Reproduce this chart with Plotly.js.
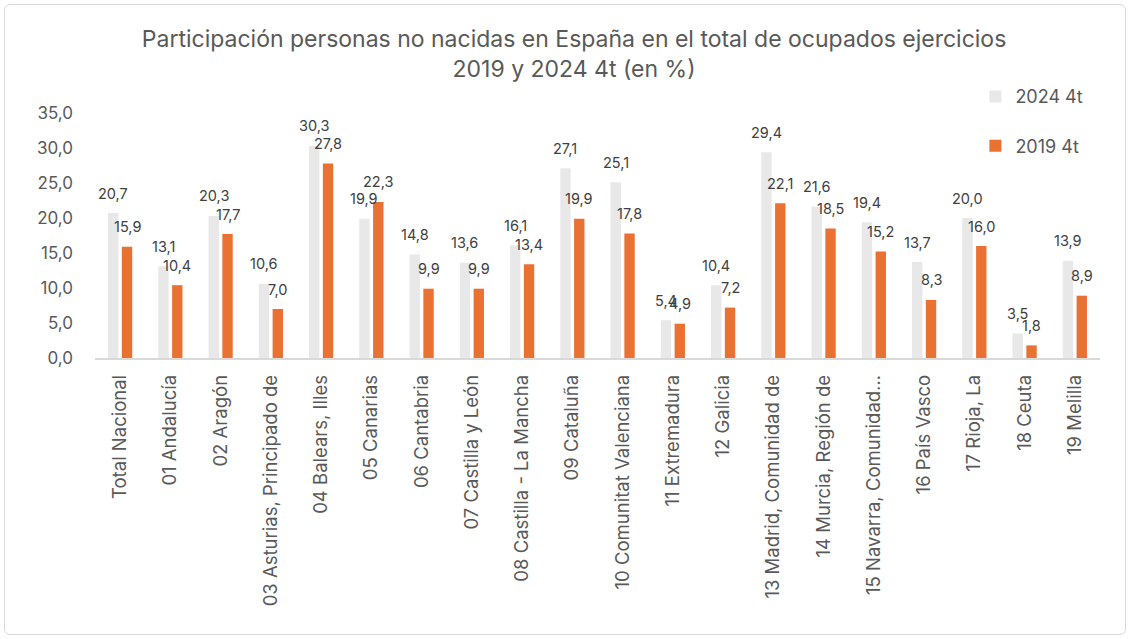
<!DOCTYPE html>
<html>
<head>
<meta charset="utf-8">
<script src="https://cdn.plot.ly/plotly-3.0.1.min.js"></script>
<style>
html,body{margin:0;padding:0;background:#fff;}
#wrap{position:relative;width:1130px;height:639px;}
#chart{width:1130px;height:639px;}
#frame{position:absolute;left:4px;top:4px;width:1120px;height:629px;border:1px solid #d9d9d9;border-radius:6px;pointer-events:none;}
</style>
</head>
<body>
<div id="wrap"><div id="chart"></div><div id="frame"></div></div>
<script>
var categories = ["Total Nacional","01 Andalucía","02 Aragón","03 Asturias, Principado de","04 Balears, Illes","05 Canarias","06 Cantabria","07 Castilla y León","08 Castilla - La Mancha","09 Cataluña","10 Comunitat Valenciana","11 Extremadura","12 Galicia","13 Madrid, Comunidad de","14 Murcia, Región de","15 Navarra, Comunidad…","16 País Vasco","17 Rioja, La","18 Ceuta","19 Melilla"];
var values2024 = [20.7,13.1,20.3,10.6,30.3,19.9,14.8,13.6,16.1,27.1,25.1,5.4,10.4,29.4,21.6,19.4,13.7,20.0,3.5,13.9];
var values2019 = [15.9,10.4,17.7,7.0,27.8,22.3,9.9,9.9,13.4,19.9,17.8,4.9,7.2,22.1,18.5,15.2,8.3,16.0,1.8,8.9];
var seriesNames = ["2024 4t","2019 4t"];

var txtColor = "#595959";
var font = "Inter, Liberation Sans, Arial, sans-serif";
function fmt(v){ return v.toFixed(1).replace(".", ","); }

var traces = [
  {type:"bar", name:seriesNames[0], x:categories, y:values2024, marker:{color:"#e8e8e8"}, legendgroup:"a", hoverinfo:"y"},
  {type:"bar", name:seriesNames[1], x:categories, y:values2019, marker:{color:"#e97132"}, legendgroup:"b", hoverinfo:"y"}
];

var annotations = [];
categories.forEach(function(c,i){
  annotations.push({x:c, y:values2024[i], xref:"x", yref:"y", text:fmt(values2024[i]), showarrow:false, xshift:-7, yshift:20, yanchor:"middle", font:{family:font,size:14.5,color:"#404040"}});
  annotations.push({x:c, y:values2019[i], xref:"x", yref:"y", text:fmt(values2019[i]), showarrow:false, xshift:7, yshift:20, yanchor:"middle", font:{family:font,size:14.5,color:"#404040"}});
});

var layout = {
  width:1130, height:639,
  margin:{l:95, r:30, t:113, b:281},
  paper_bgcolor:"#fff", plot_bgcolor:"#fff",
  separators:",.",
  font:{family:font, color:txtColor},
  title:{text:"Participación personas no nacidas en España en el total de ocupados ejercicios<br>2019 y 2024 4t (en %)", x:0.508, xref:"container", xanchor:"center", y:0.926, yref:"container", yanchor:"top", font:{family:font,size:23,color:txtColor}},
  barmode:"group", bargap:0.45, bargroupgap:0.25,
  showlegend:true,
  legend:{x:0.876, xanchor:"left", y:1.142, yanchor:"top", traceorder:"grouped", tracegroupgap:23, font:{family:font,size:18,color:txtColor}, bgcolor:"rgba(0,0,0,0)"},
  xaxis:{type:"category", tickangle:-90, tickfont:{family:font,size:18.5,color:txtColor}, showline:true, linecolor:"#d9d9d9", linewidth:1.5, ticks:"", showgrid:false, ticklabelstandoff:8, fixedrange:true},
  yaxis:{range:[0,35], dtick:5, tickformat:".1f", tickfont:{family:font,size:17,color:txtColor}, showgrid:false, zeroline:false, showline:false, ticks:"", ticklabelstandoff:21, fixedrange:true},
  annotations:annotations
};

Plotly.newPlot("chart", traces, layout, {displayModeBar:false, staticPlot:true});
</script>
</body>
</html>
